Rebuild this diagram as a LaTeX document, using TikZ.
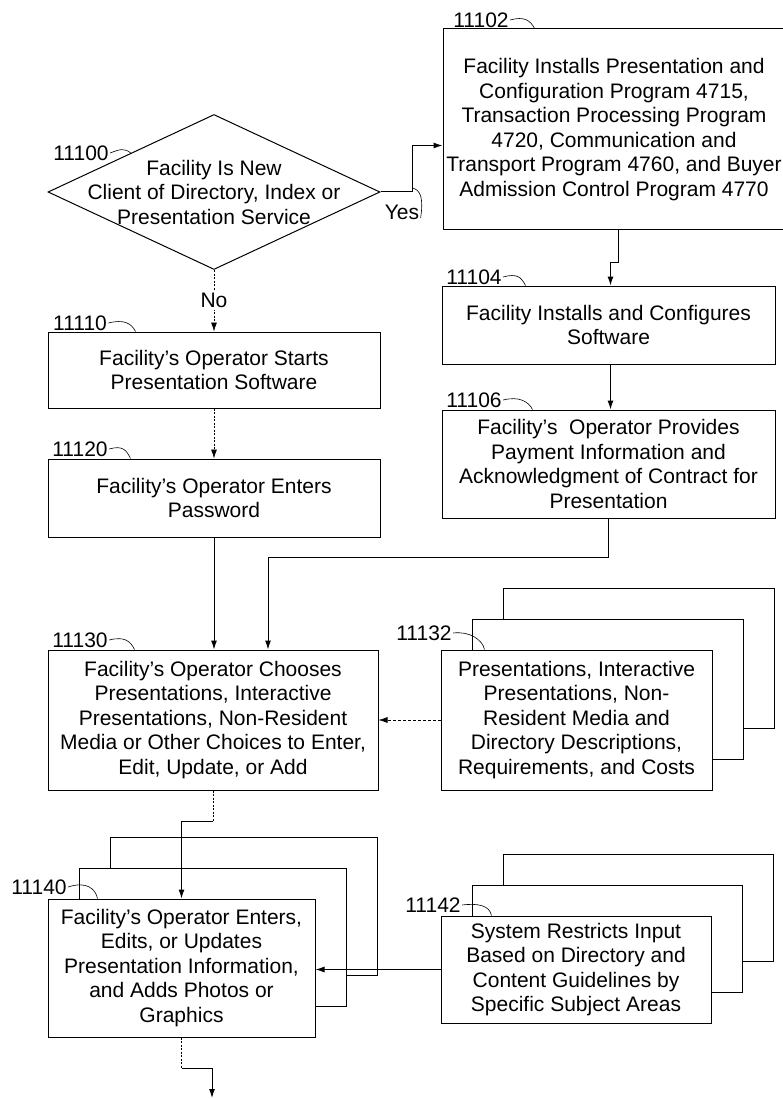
\documentclass[tikz,border=0pt]{standalone}
\usepackage{fontspec}
\setmainfont{Liberation Sans}
\usetikzlibrary{shapes.geometric,shadows,arrows.meta}
\newcommand{\flowfont}{\fontsize{21}{24.5}\selectfont}
\tikzset{
	procbox/.style={draw, rectangle, fill=white, align=center, inner sep=2pt, font=\flowfont},
	stackbox/.style={procbox,
		copy shadow={shadow xshift=62pt, shadow yshift=62pt},
		copy shadow={shadow xshift=31pt, shadow yshift=31pt}},
	refnum/.style={font=\flowfont, inner sep=1pt},
	leader/.style={line width=0.6pt},
	thindash/.style={line width=0.7pt, dash pattern=on 2pt off 1.5pt},
}
\begin{document}
\begin{tikzpicture}[x=1pt, y=-1pt, line width=1pt, >={Latex[length=9pt,width=6pt]}]
	\path[use as bounding box, fill=white] (0,0) rectangle (783,1099);

	%Entscheidung oben links
	\node[diamond, draw, minimum width=332pt, minimum height=155pt, inner sep=0pt] (d11100) at (214,192) {};
	\node[font=\flowfont, align=center] (t11100) at (d11100) {Facility Is New\\Client of Directory, Index or\\Presentation Service};

	%rechte Spalte
	\node[procbox, minimum width=342pt, minimum height=201pt] (b11102) at (614,129.5) {Facility Installs Presentation and\\Configuration Program 4715,\\Transaction Processing Program\\4720, Communication and\\Transport Program 4760, and Buyer\\Admission Control Program 4770};
	\node[procbox, minimum width=333pt, minimum height=78pt] (b11104) at (608.5,325) {Facility Installs and Configures\\Software};
	\node[procbox, minimum width=333pt, minimum height=108pt] (b11106) at (608.5,464) {Facility's~ Operator Provides\\Payment Information and\\Acknowledgment of Contract for\\Presentation};

	%linke Spalte
	\node[procbox, minimum width=332pt, minimum height=76pt] (b11110) at (214,370) {Facility's Operator Starts\\Presentation Software};
	\node[procbox, minimum width=332pt, minimum height=78pt] (b11120) at (214,498) {Facility's Operator Enters\\Password};
	\node[procbox, minimum width=330pt, minimum height=140pt] (b11130) at (213,720) {Facility's Operator Chooses\\Presentations, Interactive\\Presentations, Non-Resident\\Media or Other Choices to Enter,\\Edit, Update, or Add};

	%Stapel
	\node[stackbox, minimum width=271pt, minimum height=140pt] (b11132) at (576.5,720) {Presentations, Interactive\\Presentations, Non-\\Resident Media and\\Directory Descriptions,\\Requirements, and Costs};
	\node[stackbox, minimum width=267pt, minimum height=138pt] (b11140) at (181.5,968) {Facility's Operator Enters,\\Edits, or Updates\\Presentation Information,\\and Adds Photos or\\Graphics};
	\node[stackbox, minimum width=270pt, minimum height=107pt] (b11142) at (576,969.5) {System Restricts Input\\Based on Directory and\\Content Guidelines by\\Specific Subject Areas};

	%Verbindungen
	\draw[->] (d11100.east) -- ++(32,0) coordinate (yescorner) |- ([yshift=-16pt]b11102.west);
	\node[refnum] (lyes) at (402,212) {Yes};
	\draw[->] ([xshift=4pt]b11102.south) -- ++(0,32) -| ([xshift=2pt]b11104.north);
	\draw[->] ([xshift=2pt]b11104.south) -- ([xshift=2pt]b11106.north);
	\draw[->, thindash] (d11100.south) -- node[refnum, fill=white, inner sep=2pt] (lno) {No} (b11110.north);
	\draw[->, thindash] (b11110.south) -- (b11120.north);
	\draw[->] (b11120.south) -- (b11120.south |- b11130.north);
	\draw[->] (b11106.south) -- ++(0,39) -| ([xshift=55pt]b11130.north);
	\draw[->, dash pattern=on 3pt off 2pt, line width=0.7pt] (b11132.west) -- (b11132.west -| b11130.east);
	\draw[thindash] (b11130.south) -- ++(0,31) coordinate (c11130);
	\draw[->] (c11130) -| (b11140.north);
	\draw[->] (b11142.west) -- (b11142.west -| b11140.east);
	\draw[thindash] (b11140.south) -- ++(0,31) coordinate (c11140);
	\coordinate (next) at (212,1098);
	\draw[->] (c11140) -| (next);

	%Bezugszeichen
	\node[refnum] (l11100) at (81,153) {11100};
	\node[refnum] (l11102) at (481,20) {11102};
	\node[refnum] (l11104) at (474,277) {11104};
	\node[refnum] (l11106) at (474,400) {11106};
	\node[refnum] (l11110) at (80,323) {11110};
	\node[refnum] (l11120) at (80,449) {11120};
	\node[refnum] (l11130) at (80,640) {11130};
	\node[refnum] (l11132) at (424,633) {11132};
	\node[refnum] (l11140) at (39,887) {11140};
	\node[refnum] (l11142) at (433,905) {11142};

	\draw[leader] (l11100.east) .. controls +(10,-4) and +(-6,-5) .. (d11100.north west);
	\draw[leader] (l11102.east) .. controls +(14,-4) and +(-4,-8) .. ([xshift=92pt]b11102.north west);
	\draw[leader] (l11104.east) .. controls +(14,-4) and +(-4,-8) .. ([xshift=84pt]b11104.north west);
	\draw[leader] (l11106.east) .. controls +(16,-4) and +(-4,-8) .. ([xshift=91pt]b11106.north west);
	\draw[leader] (l11110.east) .. controls +(16,-4) and +(-4,-8) .. ([xshift=88pt]b11110.north west);
	\draw[leader] (l11120.east) .. controls +(14,-4) and +(-4,-8) .. ([xshift=83pt]b11120.north west);
	\draw[leader] (l11130.east) .. controls +(16,-4) and +(-4,-8) .. ([xshift=87pt]b11130.north west);
	\draw[leader] (l11132.east) .. controls +(16,-2) and +(-2,-10) .. ([xshift=44pt]b11132.north west);
	\draw[leader] (l11140.east) .. controls +(18,-6) and +(-2,-10) .. ([xshift=50pt]b11140.north west);
	\draw[leader] (l11142.east) .. controls +(16,-2) and +(-2,-10) .. ([xshift=51pt]b11142.north west);
	\draw[leader] ([yshift=-6pt]lyes.east) .. controls +(3,-20) and +(8,2) .. ([yshift=4pt]yescorner);
\end{tikzpicture}
\end{document}
